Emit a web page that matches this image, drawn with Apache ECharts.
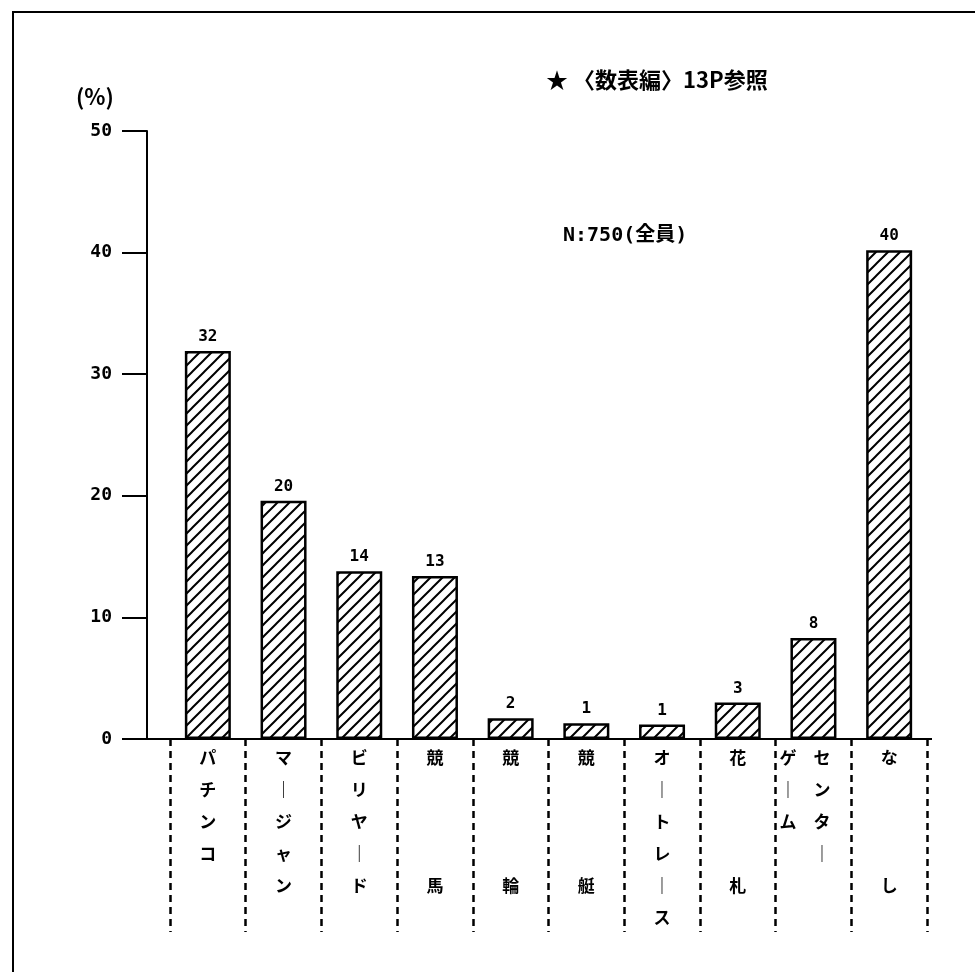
<!DOCTYPE html>
<html><head><meta charset="utf-8">
<script src="https://cdn.jsdelivr.net/npm/echarts@6/dist/echarts.min.js"></script>
<style>html,body{margin:0;padding:0;background:#fff}#c{width:975px;height:972px}</style>
</head><body><div id="c"></div>
<script>
const categories = ['パチンコ','マージャン','ビリヤード','競馬','競輪','競艇','オートレース','花札','センターゲーム','なし'];
const values = [31.9, 19.6, 13.8, 13.4, 1.7, 1.3, 1.2, 3.0, 8.3, 40.2];
const barLabels = ['32','20','14','13','2','1','1','3','8','40'];
const yTicks = [0, 10, 20, 30, 40, 50];
const titleText = '★ 〈数表編〉13P参照';
const unitText = '(%)';
const noteText = 'N:750(全員)';

function vchar(ch){ return ch === 'ー' ? '｜' : ch; }
function verticalize(name){
  if (name === 'センターゲーム') {
    const right = 'センター'.split(''), left = 'ゲーム'.split('');
    const rows = [];
    for (let i = 0; i < Math.max(right.length, left.length); i++) {
      rows.push((left[i] ? vchar(left[i]) : '　') + '　' + (right[i] ? vchar(right[i]) : '　') + '　');
    }
    return rows.join('\n');
  }
  const chars = name.split('');
  if (chars.length === 2) return [chars[0], '　', '　', '　', chars[1]].join('\n');
  return chars.map(vchar).join('\n');
}
function hatch(){
  const s = 12, c = document.createElement('canvas'); c.width = c.height = s;
  const g = c.getContext('2d');
  g.fillStyle = '#fff'; g.fillRect(0,0,s,s);
  g.strokeStyle = '#000'; g.lineWidth = 2;
  g.beginPath();
  g.moveTo(0,s); g.lineTo(s,0);
  g.moveTo(-s/2,s/2); g.lineTo(s/2,-s/2);
  g.moveTo(s/2,s*1.5); g.lineTo(s*1.5,s/2);
  g.stroke();
  return c;
}
const chart = echarts.init(document.getElementById('c'));
const numFont = 'DejaVu Sans Mono';
const jpFont = 'Noto Sans CJK JP';
chart.setOption({
  animation: false,
  backgroundColor: '#fff',
  grid: { left: 170, right: 48, top: 131, bottom: 233 },
  xAxis: {
    type: 'category', data: categories,
    axisLine: { show: true, lineStyle: { color: '#000', width: 2 } },
    axisTick: { show: true, interval: 0, length: 193, lineStyle: { color: '#000', width: 2.5, type: [7,5] } },
    axisLabel: { interval: 0, formatter: verticalize, color: '#000', fontFamily: jpFont, fontWeight: 'bold',
      fontSize: 17, lineHeight: 32, margin: 3 }
  },
  yAxis: {
    type: 'value', min: yTicks[0], max: yTicks[yTicks.length-1], interval: yTicks[1]-yTicks[0], offset: 23,
    axisLine: { show: true, lineStyle: { color: '#000', width: 2 } },
    axisTick: { show: true, length: 25, lineStyle: { color: '#000', width: 2 } },
    splitLine: { show: false },
    axisLabel: { color: '#000', fontFamily: numFont, fontWeight: 'bold', fontSize: 18, margin: 35 }
  },
  series: [{
    type: 'bar', data: values, barWidth: 46,
    itemStyle: { color: { image: hatch(), repeat: 'repeat' }, borderColor: '#000', borderWidth: 2.5 },
    label: { show: true, position: 'top', distance: 6, color: '#000', fontFamily: numFont, fontWeight: 'bold', fontSize: 16,
      formatter: p => barLabels[p.dataIndex] }
  }]
});
const y0 = chart.convertToPixel({ yAxisIndex: 0 }, 0);
chart.setOption({
  graphic: [
    { type: 'polyline', shape: { points: [[13, 972], [13, 12], [975, 12]] }, style: { stroke: '#000', lineWidth: 2, fill: null } },
    { type: 'line', shape: { x1: 124, y1: y0, x2: 932, y2: y0 }, style: { stroke: '#000', lineWidth: 2 } },
    { type: 'text', left: 546, top: 69, style: { text: titleText, font: 'bold 22px "Noto Sans CJK JP"', fill: '#000' } },
    { type: 'text', left: 76, top: 86, style: { text: unitText, font: 'bold 22px "Noto Sans CJK JP"', fill: '#000' } },
    { type: 'text', left: 563, top: 226, style: { text: noteText, font: 'bold 20px "DejaVu Sans Mono", "Noto Sans CJK JP"', fill: '#000' } }
  ]
});
</script></body></html>
